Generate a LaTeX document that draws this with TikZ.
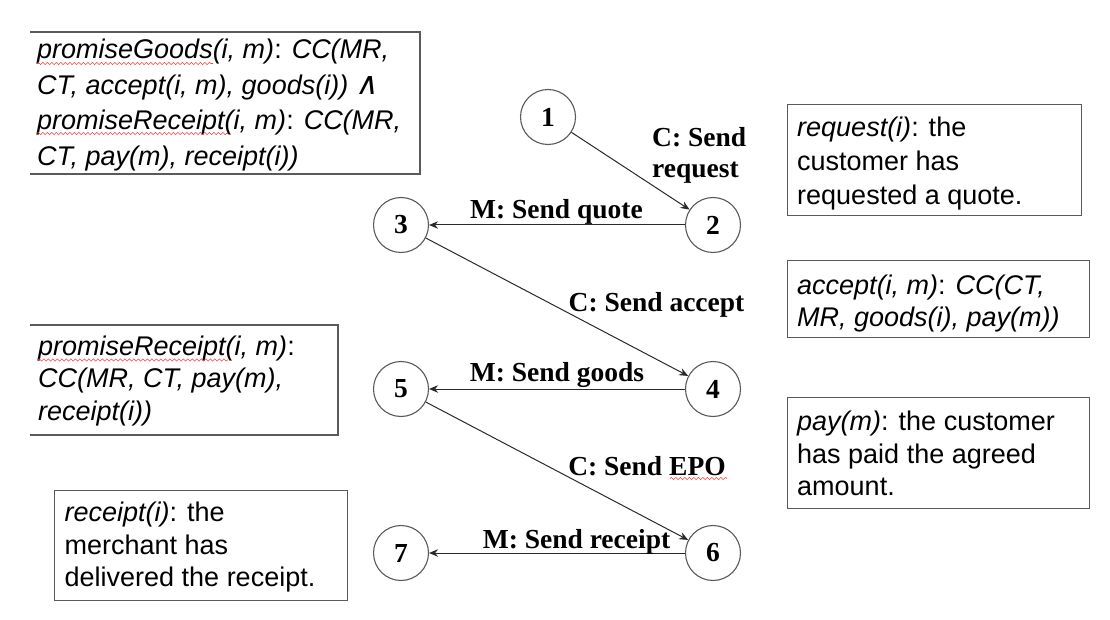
\documentclass[tikz,border=0pt]{standalone}
\usepackage{fontspec}
\setmainfont{Liberation Serif}
\setsansfont{Liberation Sans}
\newfontfamily\symfont[FakeSlant=0.2]{DejaVu Sans}
\usetikzlibrary{arrows.meta,decorations.pathmorphing}
\definecolor{boxgray}{HTML}{5A5A5A}
\definecolor{linegray}{HTML}{2A2A2A}
\tikzset{
  state/.style={circle,draw=boxgray,line width=1.1pt,fill=white,minimum size=55pt,inner sep=0pt,
    font=\rmfamily\bfseries\fontsize{27.5}{30}\selectfont},
  arr/.style={draw=linegray,line width=1pt,-{Stealth[length=9pt,width=7.5pt]}},
  lbl/.style={inner sep=0pt,font=\rmfamily\bfseries\fontsize{27.5}{30.5}\selectfont,align=left},
  boxst/.style={draw=boxgray,line width=1.3pt,inner sep=0pt},
  txt/.style={inner sep=0pt,anchor=north west,align=left},
  squig/.style={draw=red!75,line width=0.6pt,decorate,decoration={snake,segment length=4.5pt,amplitude=1.1pt}}
}
\newcommand{\firstline}{\rule{0pt}{20pt}}
\newcommand{\landsym}{{\symfont\fontsize{31}{31}\selectfont ∧}}
\begin{document}
\begin{tikzpicture}[x=1pt,y=-1pt]
\useasboundingbox[fill=white] (0,0) rectangle (1110,620);

% open-left boxes
\draw[boxgray,line width=1.3pt] (30,32) -- (420,32) -- (420,174) -- (30,174);
\draw[boxgray,line width=1.3pt] (30,325) -- (338,325) -- (338,435) -- (30,435);
% closed boxes
\node[boxst,anchor=north west,minimum width=294pt,minimum height=111pt] (rb1) at (787,104) {};
\node[boxst,anchor=north west,minimum width=302pt,minimum height=77pt] (rb2) at (787,260) {};
\node[boxst,anchor=north west,minimum width=302pt,minimum height=111pt] (rb3) at (787,397) {};
\node[boxst,anchor=north west,minimum width=293pt,minimum height=110pt] (lb3) at (54,490) {};

% box texts
\node[txt,font=\sffamily\fontsize{27}{35.6}\selectfont] (t1) at (37,38.5)
  {\firstline\textit{promiseGoods(i, m)}: \textit{CC(MR,}\\
   \textit{CT, accept(i, m), goods(i))} \landsym\\
   \textit{promiseReceipt(i, m)}: \textit{CC(MR,}\\
   \textit{CT, pay(m), receipt(i))}};
\node[txt,font=\sffamily\fontsize{27}{32.6}\selectfont] (t2) at (38,335)
  {\firstline\textit{promiseReceipt(i, m)}:\\
   \textit{CC(MR, CT, pay(m),}\\
   \textit{receipt(i))}};
\node[txt,font=\sffamily\fontsize{27}{32.5}\selectfont] (t3) at (64.5,501.7)
  {\firstline\textit{receipt(i)}: the\\
   merchant has\\
   delivered the receipt.};
\node[txt,font=\sffamily\fontsize{27}{33.6}\selectfont] (t4) at (797,116.7)
  {\firstline\textit{request(i)}: the\\
   customer has\\
   requested a quote.};
\node[txt,font=\sffamily\fontsize{27}{32.4}\selectfont] (t5) at (797,274.3)
  {\firstline\textit{accept(i, m)}: \textit{CC(CT,}\\
   \textit{MR, goods(i), pay(m))}};
\node[txt,font=\sffamily\fontsize{27}{32.2}\selectfont] (t6) at (797,410.7)
  {\firstline\textit{pay(m)}: the customer\\
   has paid the agreed\\
   amount.};

% states
\node[state] (n1) at (548,117) {1};
\node[state] (n2) at (713,225) {2};
\node[state] (n3) at (401,225) {3};
\node[state] (n4) at (713,389) {4};
\node[state] (n5) at (401,389) {5};
\node[state] (n6) at (713,553) {6};
\node[state] (n7) at (401,553) {7};

% transitions
\draw[arr] (n1) -- (n2);
\draw[arr] (n2) -- (n3);
\draw[arr] (n3) -- (n4);
\draw[arr] (n4) -- (n5);
\draw[arr] (n5) -- (n6);
\draw[arr] (n6) -- (n7);

% labels
\node[lbl,anchor=north west] (l12) at (652,127.7) {\rule{0pt}{19pt}C: Send\\request};
\node[lbl,anchor=base] (l23) at (556.5,218.3) {M: Send quote};
\node[lbl,anchor=base] (l34) at (656.5,311.7) {C: Send accept};
\node[lbl,anchor=base] (l45) at (557,381.7) {M: Send goods};
\node[lbl,anchor=base] (l56) at (647,475) {C: Send EPO};
\node[lbl,anchor=base] (l67) at (576.5,548.3) {M: Send receipt};

% spell-check squiggles
\draw[squig] (37,63.5) -- (213,63.5);
\draw[squig] (37,133.5) -- (228,133.5);
\draw[squig] (38,360) -- (228,360);
\draw[squig] (670,478.5) -- (727,478.5);
\end{tikzpicture}
\end{document}
